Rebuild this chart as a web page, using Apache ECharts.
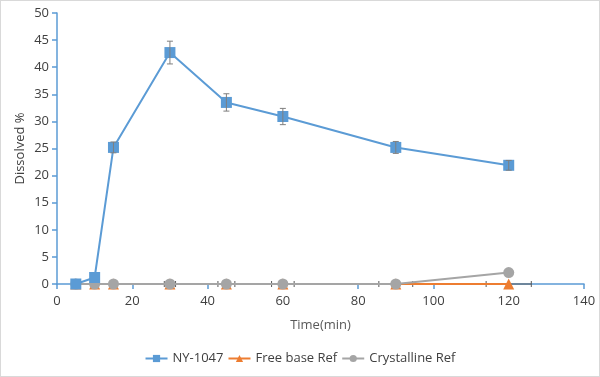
<!DOCTYPE html>
<html><head><meta charset="utf-8">
<script src="https://cdn.jsdelivr.net/npm/echarts@6/dist/echarts.min.js"></script>
<style>html,body{margin:0;padding:0;background:#fff}#c{width:600px;height:377px;box-sizing:border-box;border:1px solid #d9d9d9}</style>
</head><body><div id="c"></div>
<script>
const times = [5, 10, 15, 30, 45, 60, 90, 120];
const nyValues = [0, 1.2, 25.2, 42.7, 33.5, 30.9, 25.2, 21.9];
const nyErrors = [0, 0, 1.0, 2.1, 1.6, 1.5, 1.1, 0.9];
const freeBaseValues = [0, 0, 0, 0, 0, 0, 0, 0];
const crystallineValues = [0, 0, 0, 0, 0, 0, 0, 2.1];
const xErrFraction = 0.05;
const yTicks = [0, 5, 10, 15, 20, 25, 30, 35, 40, 45, 50];
const xTicks = [0, 20, 40, 60, 80, 100, 120, 140];

const chart = echarts.init(document.getElementById('c'));
const font = '"Open Sans", "Noto Sans", sans-serif';
const axisColor = '#5B9BD5';
const pair = (xs, ys) => xs.map((x, i) => [x, ys[i]]);

const yErrData = times.map((t, i) => [t, nyValues[i], nyErrors[i]]);
const xErrData = times.map((t, i) => [t, freeBaseValues[i], t * xErrFraction]);

function yErrRender(params, api) {
  const x = api.value(0), y = api.value(1), e = api.value(2);
  if (!e) return null;
  const top = api.coord([x, y + e]), bot = api.coord([x, y - e]);
  const w = 3;
  const st = {stroke: '#7f7f7f', lineWidth: 1};
  return {type: 'group', children: [
    {type: 'line', shape: {x1: top[0], y1: top[1], x2: bot[0], y2: bot[1]}, style: st},
    {type: 'line', shape: {x1: top[0]-w, y1: top[1], x2: top[0]+w, y2: top[1]}, style: st},
    {type: 'line', shape: {x1: bot[0]-w, y1: bot[1], x2: bot[0]+w, y2: bot[1]}, style: st}
  ]};
}
function xErrRender(params, api) {
  const x = api.value(0), y = api.value(1), e = api.value(2);
  const l = api.coord([x - e, y]), r = api.coord([x + e, y]);
  const h = 3;
  const st = {stroke: '#595959', lineWidth: 1};
  return {type: 'group', children: [
    {type: 'line', shape: {x1: l[0], y1: l[1], x2: r[0], y2: r[1]}, style: st},
    {type: 'line', shape: {x1: l[0], y1: l[1]-h, x2: l[0], y2: l[1]+h}, style: st},
    {type: 'line', shape: {x1: r[0], y1: r[1]-h, x2: r[0], y2: r[1]+h}, style: st}
  ]};
}

chart.setOption({
  animation: false,
  textStyle: {fontFamily: font},
  grid: {left: 56, right: 15, top: 12, bottom: 92, containLabel: false},
  xAxis: {
    type: 'value', min: 0, max: 140, interval: 20,
    name: 'Time(min)', nameLocation: 'middle', nameGap: 35, nameMoveOverlap: false,
    nameTextStyle: {color: '#595959', fontSize: 13, fontFamily: font},
    axisLine: {show: true, lineStyle: {color: axisColor, width: 1.5}},
    axisTick: {show: true, inside: false, length: 5, lineStyle: {color: axisColor, width: 1.5}},
    axisLabel: {color: '#404040', fontSize: 13, margin: 11, fontFamily: font},
    splitLine: {show: false}
  },
  yAxis: {
    type: 'value', min: 0, max: 50, interval: 5,
    name: 'Dissolved %', nameLocation: 'middle', nameGap: 30, nameRotate: 90, nameMoveOverlap: false,
    nameTextStyle: {color: '#404040', fontSize: 13, fontFamily: font},
    axisLine: {show: true, lineStyle: {color: axisColor, width: 1.5}},
    axisTick: {show: true, inside: false, length: 5, lineStyle: {color: axisColor, width: 1.5}},
    axisLabel: {color: '#404040', fontSize: 13, margin: 8, fontFamily: font},
    splitLine: {show: false}
  },
  legend: {
    top: 346, left: 'center', itemWidth: 22, itemHeight: 9, itemGap: 4,
    textStyle: {color: '#404040', fontSize: 13, fontFamily: font},
    data: ['NY-1047', 'Free base Ref', 'Crystalline Ref']
  },
  series: [
    {type: 'custom', name: 'xerr', renderItem: xErrRender, data: xErrData, z: 1, silent: true},
    {type: 'line', name: 'Free base Ref', data: pair(times, freeBaseValues),
     symbol: 'triangle', symbolSize: 11, itemStyle: {color: '#ED7D31'},
     lineStyle: {color: '#ED7D31', width: 2}, z: 2},
    {type: 'line', name: 'Crystalline Ref', data: pair(times, crystallineValues),
     symbol: 'circle', symbolSize: 11, itemStyle: {color: '#A5A5A5'},
     lineStyle: {color: '#A5A5A5', width: 2}, z: 3},
    {type: 'line', name: 'NY-1047', data: pair(times, nyValues),
     symbol: 'rect', symbolSize: 11, itemStyle: {color: '#5B9BD5'},
     lineStyle: {color: '#5B9BD5', width: 2}, z: 4},
    {type: 'custom', name: 'yerr', renderItem: yErrRender, data: yErrData, z: 5, silent: true}
  ]
});
</script></body></html>
